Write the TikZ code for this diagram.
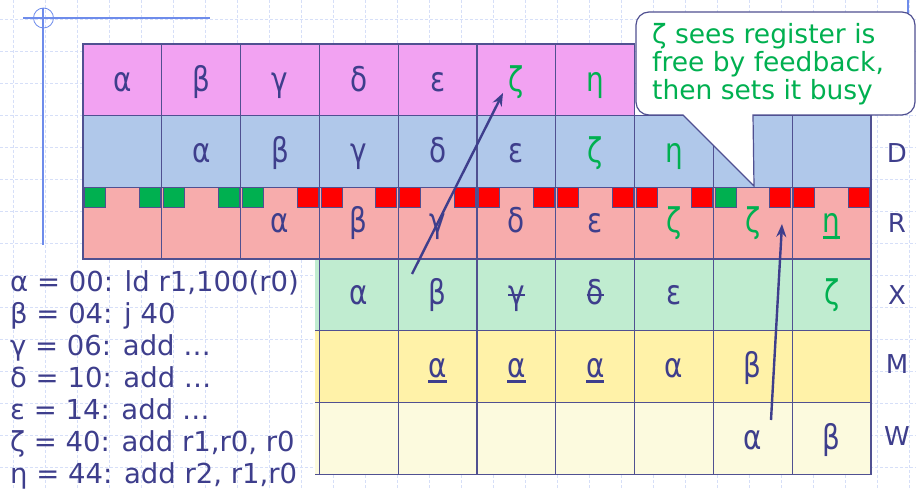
\documentclass[tikz,border=0pt]{standalone}
\usepackage{fontspec}
\setmainfont{DejaVu Sans}
\newfontfamily\cellfont[FakeStretch=0.82]{DejaVu Sans}
\usetikzlibrary{arrows.meta}

\definecolor{ink}{RGB}{62,62,140}
\definecolor{grn}{RGB}{0,176,80}
\definecolor{fetchc}{RGB}{242,162,242}
\definecolor{decc}{RGB}{176,200,234}
\definecolor{regc}{RGB}{247,172,172}
\definecolor{exc}{RGB}{192,236,208}
\definecolor{memc}{RGB}{255,242,168}
\definecolor{wbc}{RGB}{252,250,222}
\definecolor{gridc}{RGB}{214,223,248}
\definecolor{guide}{RGB}{110,140,235}
\definecolor{cellline}{RGB}{80,80,145}
\definecolor{busy}{RGB}{255,0,0}
\definecolor{freec}{RGB}{0,176,80}

% underline / strike-through for a single glyph
\newsavebox\glyphbox
\newcommand{\ulg}[1]{\sbox\glyphbox{#1}\rlap{\raisebox{-0.17em}{\rule{\wd\glyphbox}{0.07em}}}\usebox\glyphbox}
\newcommand{\stk}[1]{\sbox\glyphbox{#1}\rlap{\raisebox{0.26em}{\rule{\wd\glyphbox}{0.07em}}}\usebox\glyphbox}

\tikzset{
  gridl/.style={draw=gridc, line width=0.7pt, dash pattern=on 3pt off 2pt},
  cellbox/.style={draw=cellline, line width=1.2pt},
  cellt/.style={anchor=base, inner sep=0pt, text=ink, font=\cellfont\fontsize{34}{34}\selectfont},
  grt/.style={cellt, text=grn},
  stagelbl/.style={anchor=base, inner sep=0pt, text=ink, font=\fontsize{26}{26}\selectfont},
  codeline/.style={anchor=base west, inner sep=0pt, text=ink, font=\fontsize{27.5}{27.5}\selectfont},
  notet/.style={anchor=base west, inner sep=0pt, text=grn, font=\fontsize{26.5}{26.5}\selectfont},
  flow/.style={draw=ink, line width=2.4pt, -{Stealth[length=13pt,width=10pt]}},
  marker/.style={draw=cellline, line width=0.6pt},
}

\begin{document}
\begin{tikzpicture}[x=1pt, y=-1pt]
\useasboundingbox (0,0) rectangle (916,489);

% background guide grid
\foreach \k in {0,...,28} \draw[gridl] ({13+32*\k},0) -- ++(0,489);
\foreach \k in {0,...,14} \draw[gridl] (0,{19+32*\k}) -- ++(916,0);

% crosshair
\draw[guide, line width=2.5pt] (23,18) -- (210,18);
\draw[guide, line width=2.5pt] (43,8) -- (43,245);
\draw[guide, line width=0.8pt] (43.5,18) circle[radius=10];
\draw[guide, line width=1.5pt] (908,0) -- (908,30);

% pipeline rows: F, D, R (columns 0..9)
\foreach \i in {0,...,6}
  \draw[cellbox, fill=fetchc] ({83+78.8*\i},44) rectangle ++(78.8,71.8);
\foreach \i in {0,...,9}
  \draw[cellbox, fill=decc] ({83+78.8*\i},115.8) rectangle ++(78.8,71.4);
\foreach \i in {0,...,9}
  \draw[cellbox, fill=regc] ({83+78.8*\i},187.2) rectangle ++(78.8,71.8);

% register scoreboard markers in R
\foreach \i/\lc/\rc in {0/freec/freec,1/freec/freec,2/freec/busy,3/busy/busy,4/busy/busy,
                        5/busy/busy,6/busy/busy,7/busy/busy,8/freec/busy,9/busy/busy}{
  \draw[marker, fill=\lc] ({83+78.8*\i+1.5},187.8) rectangle ++(21,19.5);
  \draw[marker, fill=\rc] ({83+78.8*\i+78.8-22.5},187.8) rectangle ++(21,19.5);
}

% rows X, M, W (columns 3..9)
\foreach \r/\c in {0/exc,1/memc,2/wbc}{
  \fill[\c] (315,{259+71.7*\r}) rectangle (320,{259+71.7*(\r+1)});
  \draw[cellbox] (315,{259+71.7*\r}) -- (320,{259+71.7*\r});
  \draw[cellbox] (315,{259+71.7*(\r+1)}) -- (320,{259+71.7*(\r+1)});
  \foreach \i in {3,...,9}
    \draw[cellbox, fill=\c] ({83+78.8*\i},{259+71.7*\r}) rectangle ++(78.8,71.7);
}

% F
\node[cellt] (f0) at (122.4,92) {α};
\node[cellt] (f1) at (201.2,92) {β};
\node[cellt] (f2) at (280.0,92) {γ};
\node[cellt] (f3) at (358.8,92) {δ};
\node[cellt] (f4) at (437.6,92) {ε};
\node[grt]   (f5) at (516.4,92) {ζ};
\node[grt]   (f6) at (595.2,92) {η};
% D
\node[cellt] (d1) at (201.2,163) {α};
\node[cellt] (d2) at (280.0,163) {β};
\node[cellt] (d3) at (358.8,163) {γ};
\node[cellt] (d4) at (437.6,163) {δ};
\node[cellt] (d5) at (516.4,163) {ε};
\node[grt]   (d6) at (595.2,163) {ζ};
\node[grt]   (d7) at (674.0,163) {η};
% R
\node[cellt] (r2) at (280.0,233) {α};
\node[cellt] (r3) at (358.8,233) {β};
\node[cellt] (r4) at (437.6,233) {γ};
\node[cellt] (r5) at (516.4,233) {δ};
\node[cellt] (r6) at (595.2,233) {ε};
\node[grt]   (r7) at (674.0,233) {ζ};
\node[grt]   (r8) at (752.8,233) {ζ};
\node[grt]   (r9) at (831.6,233) {\ulg{η}};
% X
\node[cellt] (x3) at (358.8,305) {α};
\node[cellt] (x4) at (437.6,305) {β};
\node[cellt] (x5) at (516.4,305) {\stk{γ}};
\node[cellt] (x6) at (595.2,305) {\stk{δ}};
\node[cellt] (x7) at (674.0,305) {ε};
\node[grt]   (x9) at (831.6,305) {ζ};
% M
\node[cellt] (m4) at (437.6,377) {\ulg{α}};
\node[cellt] (m5) at (516.4,377) {\ulg{α}};
\node[cellt] (m6) at (595.2,377) {\ulg{α}};
\node[cellt] (m7) at (674.0,377) {α};
\node[cellt] (m8) at (752.8,377) {β};
% W
\node[cellt] (w8) at (752.8,449) {α};
\node[cellt] (w9) at (831.6,449) {β};

% stage labels
\node[stagelbl] (lD) at (897,163) {D};
\node[stagelbl] (lR) at (897,233) {R};
\node[stagelbl] (lX) at (897,305) {X};
\node[stagelbl] (lM) at (897,373) {M};
\node[stagelbl] (lW) at (897,445) {W};

% instruction list
\node[codeline] (c1) at (10,291.7) {α = 00: ld r1,100(r0)};
\node[codeline] (c2) at (10,323.6) {β = 04: j 40};
\node[codeline] (c3) at (10,355.5) {γ = 06: add …};
\node[codeline] (c4) at (10,387.4) {δ = 10: add …};
\node[codeline] (c5) at (10,419.3) {ε = 14: add …};
\node[codeline] (c6) at (10,451.2) {ζ = 40: add r1,r0, r0};
\node[codeline] (c7) at (10,483.1) {η = 44: add r2, r1,r0};

% feedback arrows
\coordinate (jmpfrom) at (412,274);
\coordinate (jmpto) at (503,93);
\draw[flow] (jmpfrom) -- (jmpto);
\coordinate (wbfrom) at (771,420);
\coordinate (wbto) at (782,224);
\draw[flow] (wbfrom) -- (wbto);

% callout
\draw[draw=cellline, line width=1.2pt, fill=white]
  (636,25) arc[start angle=180, end angle=270, radius=13]
  -- (902,12) arc[start angle=270, end angle=360, radius=13]
  -- (915,102) arc[start angle=0, end angle=90, radius=13]
  -- (753,115) -- (754,186) -- (683,115)
  -- (649,115) arc[start angle=90, end angle=180, radius=13]
  -- cycle;
\node[notet] (n1) at (652,43.3) {ζ sees register is};
\node[notet] (n2) at (652,71.7) {free by feedback,};
\node[notet] (n3) at (652,100) {then sets it busy};
\end{tikzpicture}
\end{document}
